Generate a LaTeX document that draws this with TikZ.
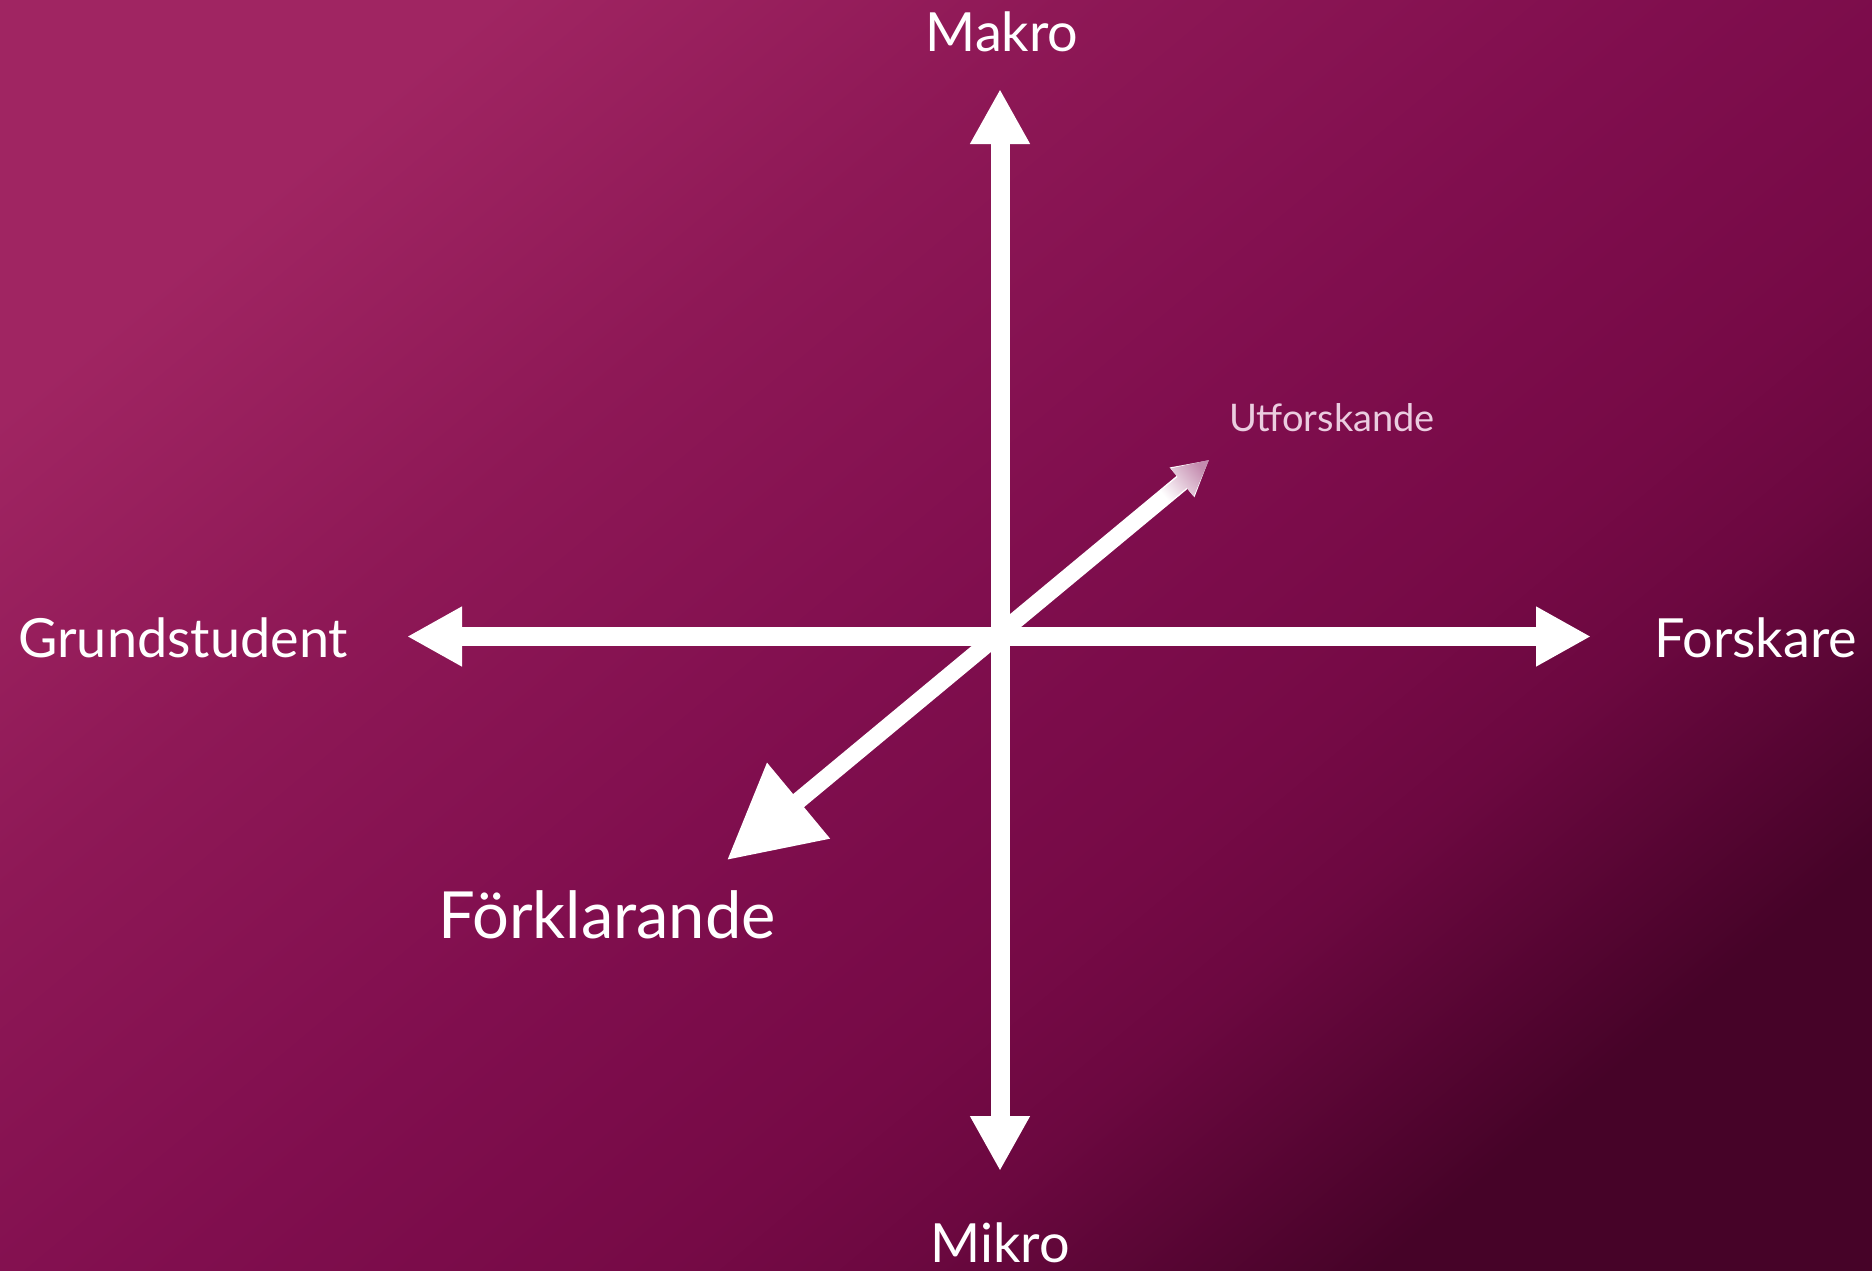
\documentclass[tikz,border=0pt]{standalone}
\usepackage{fontspec}
\setmainfont{Lato}
\usepackage{tikz}
\usepackage{xcolor}
\usetikzlibrary{arrows.meta}

\definecolor{bgA}{RGB}{160,37,98}
\definecolor{bgAB}{RGB}{142,24,86}
\definecolor{bgB}{RGB}{128,14,78}
\definecolor{bgBC}{RGB}{118,10,70}
\definecolor{bgCD}{RGB}{108,8,64}
\definecolor{bgC}{RGB}{70,3,40}
\definecolor{tipcol}{RGB}{196,140,175}
\definecolor{dimtext}{RGB}{235,205,224}
\pgfdeclarehorizontalshading{bgfade}{100bp}{color(0bp)=(bgA); color(25bp)=(bgA); color(37bp)=(bgAB); color(50bp)=(bgB); color(60bp)=(bgBC); color(65bp)=(bgCD); color(75bp)=(bgC); color(100bp)=(bgC)}
\pgfdeclarehorizontalshading{tipfade}{100bp}{color(0bp)=(white); color(30bp)=(white); color(75bp)=(tipcol); color(100bp)=(tipcol)}

\begin{document}
\begin{tikzpicture}[x=1pt, y=-1pt,
        axis/.style={draw=white, line width=19pt, {Triangle[length=55pt, width=56pt]}-{Triangle[length=55pt, width=56pt]}},
        label/.style={text=white, inner sep=0pt, font=\fontsize{54}{60}\selectfont}
    ]
        % Background
        \shade[shading=bgfade, shading angle=-50] (0, 0) rectangle (1872, 1270);
        \useasboundingbox (0, 0) rectangle (1872, 1270);

        % Axis ends
        \coordinate (top) at (1000, 89);
        \coordinate (bottom) at (1000, 1171);
        \coordinate (left) at (407, 636.5);
        \coordinate (right) at (1591, 636.5);
        \coordinate (near) at (727, 860);
        \coordinate (far) at (1209, 460);

        % Axes
        \draw[axis] (bottom) -- (top);
        \draw[axis] (left) -- (right);
        \draw[draw=white, line width=17pt, {Triangle[length=93pt, width=94pt]}-{Triangle[length=35pt, width=36pt]}] (near) -- (far);

        % Fading tip
        \shade[shading=tipfade, shading angle=39.7] (1153.3, 496.9) -- (1177.6, 477) -- (1170.6, 468.5) -- (far) -- (1193.6, 496.3) -- (1186.6, 487.8) -- (1162.5, 507.9) -- cycle;

        % Labels
        \node[label, anchor=base] (makro) at (1002, 51) {Makro};
        \node[label, anchor=base] (mikro) at (1000, 1262) {Mikro};
        \node[label, anchor=base west] (grund) at (18, 657) {Grundstudent};
        \node[label, anchor=base west] (forskare) at (1654, 657) {Forskare};
        \node[label, anchor=base west, font=\fontsize{65}{72}\selectfont] (forkl) at (438, 938) {Förklarande};
        \node[label, anchor=base west, text=dimtext, font=\fontsize{38}{44}\selectfont] (utf) at (1229, 431) {Utforskande};
    \end{tikzpicture}
\end{document}
